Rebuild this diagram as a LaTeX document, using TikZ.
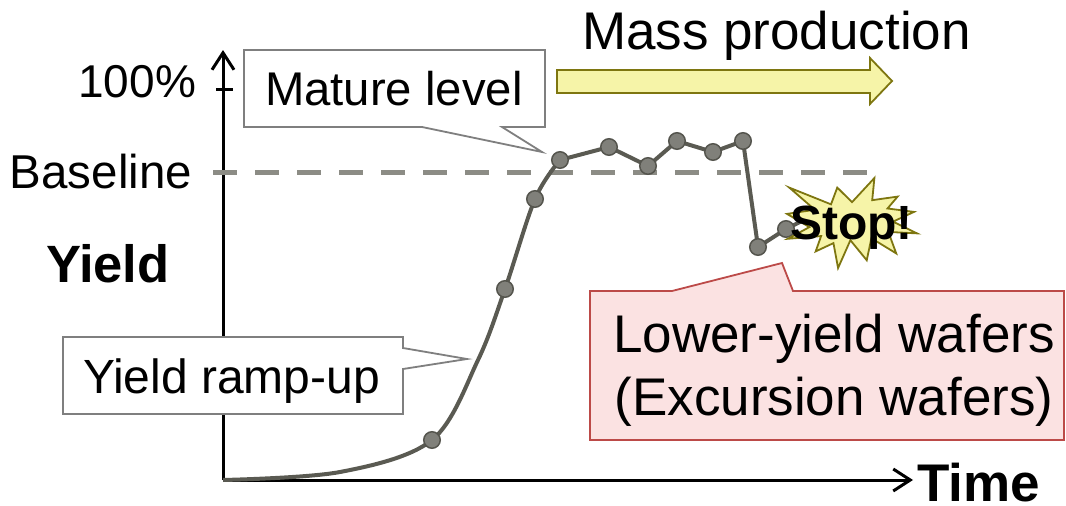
\documentclass[tikz,border=0pt]{standalone}
\usepackage{fontspec}
\setmainfont{Liberation Sans}
\usetikzlibrary{arrows.meta}
\definecolor{curvegray}{HTML}{5A5A52}
\definecolor{dotfill}{HTML}{80807A}
\definecolor{dotline}{HTML}{55554E}
\definecolor{basegray}{HTML}{8C8C85}
\definecolor{boxline}{HTML}{7F7F7F}
\definecolor{sunfill}{HTML}{F6F4A8}
\definecolor{sunline}{HTML}{7E7610}
\definecolor{pinkfill}{HTML}{FBE2E2}
\definecolor{pinkline}{HTML}{BC4A48}
\newcommand\fsz[1]{\fontsize{#1}{#1}\selectfont}
\tikzset{
  lbl/.style={inner sep=0pt, outer sep=0pt, text=black},
  axis/.style={line width=3pt, black, -{Straight Barb[length=17pt,width=22pt,line width=3pt]}},
  dot/.style={circle, fill=dotfill, draw=dotline, line width=1.5pt, minimum size=16.5pt, inner sep=0pt},
  trend/.style={curvegray, line width=4pt, line join=round},
  callout/.style={draw=boxline, line width=1.8pt, fill=white},
  redcallout/.style={draw=pinkline, line width=1.8pt, fill=pinkfill},
  burst/.style={draw=sunline, line width=1.8pt, fill=sunfill, line join=miter},
}
\begin{document}
\begin{tikzpicture}[x=1pt,y=-1pt]
\useasboundingbox (0,0) rectangle (1066,506);

% axes
\coordinate (origin) at (223,480);
\coordinate (ytop) at (223,50);
\coordinate (xend) at (913,480);
\draw[axis] (origin) -- (ytop);
\draw[axis] (origin) -- (xend);
\coordinate (tickL) at (216,89);
\coordinate (tickR) at (233,89);
\draw[line width=3pt, black] (tickL) -- (tickR);

% baseline
\coordinate (baseL) at (213,172);
\coordinate (baseR) at (867,172);
\draw[basegray, line width=5pt, dash pattern=on 24pt off 18pt] (baseL) -- (baseR);

% axis labels
\node[lbl, anchor=base east, font=\fsz{46}] (hundred) at (196,97) {100\%};
\node[lbl, anchor=base east, font=\fsz{47.5}] (baselbl) at (192,188) {Baseline};
\node[lbl, anchor=base west, font=\bfseries\fsz{52.5}] (ylabel) at (46,282) {Yield};
\node[lbl, anchor=base west, font=\bfseries\fsz{53}] (xlabel) at (917,501) {Time};

% mass production arrow
\draw[draw=sunline, line width=1.8pt, fill=sunfill]
  (557,70) -- (870,70) -- (870,58) -- (892,81) -- (870,104) -- (870,93) -- (557,93) -- cycle;
\node[lbl, anchor=base west, font=\fsz{53}] (mass) at (582,49) {Mass production};

% yield trend points
\coordinate (p0) at (223,480);
\coordinate (p1) at (432,440);
\coordinate (p2) at (505,289);
\coordinate (p3) at (535,199);
\coordinate (p4) at (560,160);
\coordinate (p5) at (609,147);
\coordinate (p6) at (648,166);
\coordinate (p7) at (677,141);
\coordinate (p8) at (713,152);
\coordinate (p9) at (743,141);
\coordinate (p10) at (758,247);
\coordinate (p11) at (786,229);

\draw[trend] plot[smooth, tension=0.55] coordinates
  {(p0) (340,472) (p1) (478,360) (p2) (p3) (p4)}
  -- (p5) -- (p6) -- (p7) -- (p8) -- (p9) -- (p10) -- (p11) -- (800,222);
\foreach \p in {p1,p2,p3,p4,p5,p6,p7,p8,p9,p10,p11}
  \node[dot] at (\p) {};

% callouts
\draw[callout] (244,50) -- (545,50) -- (545,127) -- (502,127) -- (542,152)
  -- (422,127) -- (244,127) -- cycle;
\node[lbl, anchor=base west, font=\fsz{47.3}] (mature) at (265,105) {Mature level};

\draw[callout] (63,337) -- (403,337) -- (403,348) -- (467,359) -- (403,369)
  -- (403,414) -- (63,414) -- cycle;
\node[lbl, anchor=base west, font=\fsz{48}] (ramp) at (83,393) {Yield ramp-up};

\draw[redcallout] (590,291) -- (672,291) -- (782,263) -- (793,291) -- (1064,291)
  -- (1064,440) -- (590,440) -- cycle;
\node[lbl, anchor=base, font=\fsz{53}] (lower1) at (834,352) {Lower-yield wafers};
\node[lbl, anchor=base, font=\fsz{53}] (lower2) at (834,415) {(Excursion wafers)};

% stop burst (explosion outline on a 216 x 216 grid)
\begin{scope}[shift={(787,178)}, x=0.6019pt, y=-0.4167pt]
\draw[burst] (108,58) -- (145.22,0) -- (141.55,53.25) -- (183.8,44.57) -- (167.02,73.15)
  -- (210.97,81.37) -- (176.07,104.75) -- (216,132.9) -- (168.37,129.42) -- (181.45,180.95)
  -- (140.2,144.57) -- (132.47,197.37) -- (105.32,149.35) -- (84.85,216) -- (77.15,156.27)
  -- (47.62,176.17) -- (56.67,139.37) -- (1.35,145.87) -- (37.22,117.75) -- (0,86.15)
  -- (46.27,76.17) -- (3.7,22.95) -- (73.12,63.2) -- (83.52,22.95) -- cycle;
\end{scope}
\node[lbl, anchor=base west, font=\bfseries\fsz{48}] (stop) at (790,239) {Stop!};
\end{tikzpicture}
\end{document}
